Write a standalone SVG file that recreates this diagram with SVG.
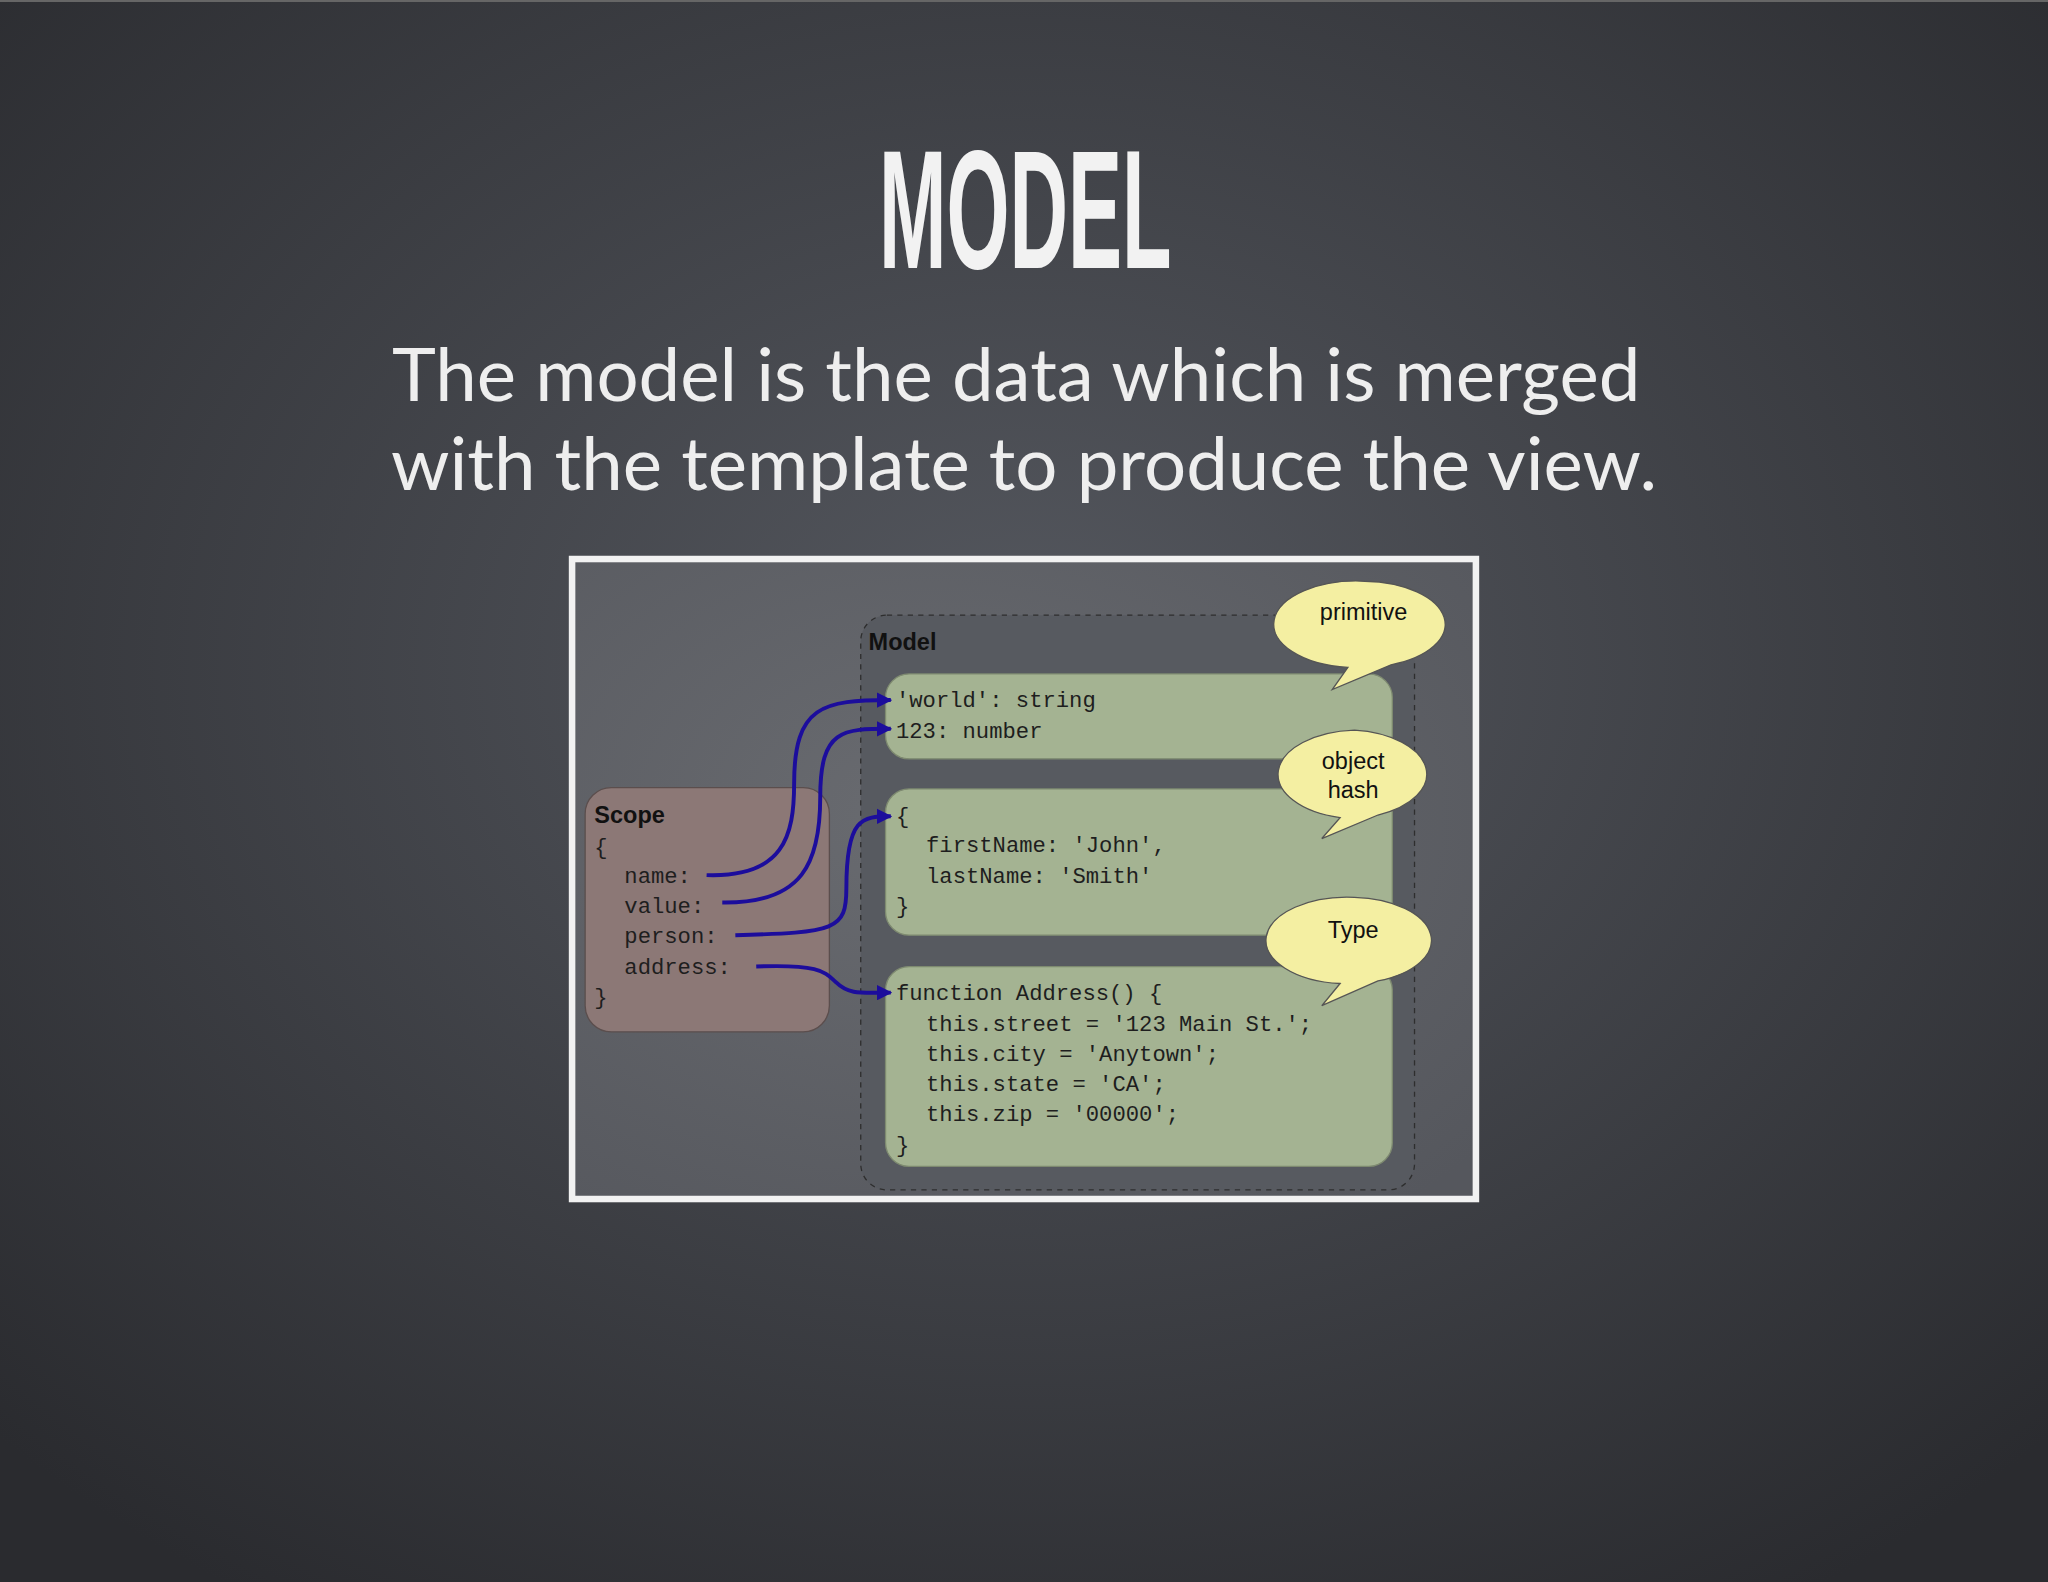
<svg xmlns="http://www.w3.org/2000/svg" width="2048" height="1582" viewBox="0 0 2048 1582">
<defs>
<radialGradient id="bg" cx="0.5" cy="0.42" r="0.7">
<stop offset="0" stop-color="#55585f"/><stop offset="1" stop-color="#2a2b2f"/>
</radialGradient>
<radialGradient id="fr" cx="0.4" cy="0.4" r="0.8">
<stop offset="0" stop-color="#696b70"/><stop offset="1" stop-color="#55575d"/>
</radialGradient>
<marker id="ah" viewBox="0 0 10 10" refX="9" refY="5" markerWidth="4" markerHeight="4" orient="auto">
<path d="M0,0 L10,5 L0,10 z" fill="#1c0d9c"/>
</marker>
<style>
.code{font-family:"Liberation Mono",monospace;font-size:17px;fill:#1e1e1e}
.lbl{font-family:"Liberation Sans",Arial,sans-serif;font-size:18px;fill:#111}
.green{fill:#a4b392;stroke:#7e8a70;stroke-width:1}
.bub{fill:#f4efa2;stroke:#555;stroke-width:1}
.arr{fill:none;stroke:#1c0d9c;stroke-width:3;marker-end:url(#ah)}
</style>
</defs>
<rect width="2048" height="1582" fill="url(#bg)"/>
<rect width="2048" height="2" fill="#666"/>
<g transform="scale(1.30612)">
<text x="785" y="205" text-anchor="middle" font-family="Liberation Sans, Arial, sans-serif" font-weight="bold" font-size="130" fill="#f2f2f2" textLength="224" lengthAdjust="spacingAndGlyphs">MODEL</text>
<g font-family="Lato, sans-serif" font-size="57" fill="#eeeeee" text-anchor="middle">
<text x="778" y="307">The model is the data which is merged</text>
<text x="784" y="375">with the template to produce the view.</text>
</g>
<g id="frame">
<rect x="438" y="428" width="692" height="490" fill="url(#fr)" stroke="#f2f2f2" stroke-width="5"/>
</g>
<g id="model">
<rect x="659" y="471" width="424" height="440" rx="20" fill="#575a60" stroke="#2e2e2e" stroke-width="1" stroke-dasharray="4,4"/>
<text x="665" y="498" class="lbl" font-weight="bold">Model</text>
</g>
<g id="scope">
<rect x="448" y="603" width="187" height="187" rx="20" fill="#8c7876" stroke="#5b4e4d" stroke-width="1"/>
<text x="455" y="630" class="lbl" font-weight="bold">Scope</text>
<text class="code"><tspan x="455" y="654">{</tspan><tspan x="478" y="676">name:</tspan><tspan x="478" y="699">value:</tspan><tspan x="478" y="722">person:</tspan><tspan x="478" y="746">address:</tspan><tspan x="455" y="769">}</tspan></text>
</g>
<g id="primitives">
<rect x="678" y="516" width="388" height="65" rx="18" class="green"/>
<text class="code"><tspan x="686" y="541">'world': string</tspan><tspan x="686" y="565">123: number</tspan></text>
</g>
<g id="hash">
<rect x="678" y="604" width="388" height="112" rx="18" class="green"/>
<text class="code"><tspan x="686" y="630">{</tspan><tspan x="709" y="652">firstName: 'John',</tspan><tspan x="709" y="676">lastName: 'Smith'</tspan><tspan x="686" y="699">}</tspan></text>
</g>
<g id="type">
<rect x="678" y="740" width="388" height="153" rx="18" class="green"/>
<text class="code"><tspan x="686" y="766">function Address() {</tspan><tspan x="709" y="789">this.street = '123 Main St.';</tspan><tspan x="709" y="812">this.city = 'Anytown';</tspan><tspan x="709" y="835">this.state = 'CA';</tspan><tspan x="709" y="858">this.zip = '00000';</tspan><tspan x="686" y="882">}</tspan></text>
</g>
<g id="bubble-primitive">
<path class="bub" d="M1045,445 A63,33 0 0 1 1065,509 L1020,528 L1032,511 A63,33 0 0 1 1045,445 z"/>
<text x="1044" y="475" class="lbl" text-anchor="middle">primitive</text>
</g>
<g id="bubble-hash">
<path class="bub" d="M1037,559 A62,34 0 0 1 1055,624 L1012,642 L1026,626 A62,34 0 0 1 1037,559 z"/>
<text x="1036" y="589" class="lbl" text-anchor="middle">object</text>
<text x="1036" y="611" class="lbl" text-anchor="middle">hash</text>
</g>
<g id="bubble-type">
<path class="bub" d="M1037,687 A62,33 0 0 1 1055,751 L1012,770 L1026,753 A62,33 0 0 1 1037,687 z"/>
<text x="1036" y="718" class="lbl" text-anchor="middle">Type</text>
</g>
<g id="connectors">
<path class="arr" d="M541,670 C600,672 608,640 608,600 C608,540 630,536 682,536"/>
<path class="arr" d="M553,691 C615,692 628,660 628,610 C628,558 645,558 682,558"/>
<path class="arr" d="M563,716 C640,714 648,712 648,680 C648,626 660,625 682,625"/>
<path class="arr" d="M579,740 C630,738 632,745 640,752 C650,762 660,760 682,760"/>
</g>
</g>
</svg>
